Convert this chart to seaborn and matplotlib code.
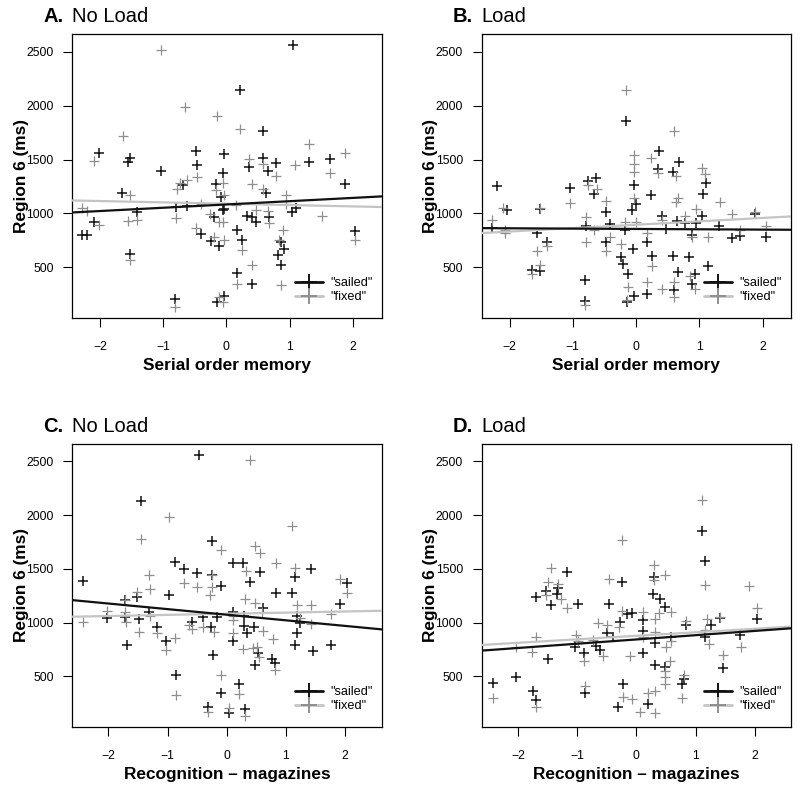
import numpy as np
import matplotlib
matplotlib.use("Agg")
import matplotlib.pyplot as plt
import seaborn as sns
from matplotlib.lines import Line2D

sns.set_style("ticks")
plt.rcParams['font.family'] = ['Liberation Sans', 'DejaVu Sans']
plt.rcParams['axes.unicode_minus'] = True
plt.rcParams['text.color'] = 'black'
plt.rcParams['axes.labelcolor'] = 'black'
plt.rcParams['xtick.color'] = 'black'
plt.rcParams['ytick.color'] = 'black'
plt.rcParams['xtick.labelcolor'] = 'black'
plt.rcParams['ytick.labelcolor'] = 'black'

# ---------------- data ----------------
# Panel A: No Load vs serial order memory
a_sailed_x = [-2.02, -1.52, -1.55, -0.48, -0.03, -0.47, -1.04, -0.05, -0.68, -0.16, -1.65, -0.08, -1.41, -0.79,
              -0.62, -0.03, -0.05, -0.19, -2.09, -0.40, -2.29, -2.20, -0.24, -0.11, -1.52, -0.81, -0.04, -0.15,
              1.05, 0.22, 0.58, 0.36, 0.58, 0.78, 0.66, 1.31, 1.64, 1.88, 0.63, 1.04, 1.11, 0.33, 0.40, 0.47,
              0.67, 0.17, 0.24, 0.87, 0.92, 0.82, 0.87, 2.04, 0.17, 0.40]
a_sailed_y = [1560, 1510, 1473, 1575, 1553, 1445, 1390, 1374, 1260, 1275, 1189, 1148, 1009, 1059,
              1071, 1040, 1028, 963, 917, 808, 802, 802, 740, 694, 626, 208, 230, 178,
              2565, 2141, 1767, 1427, 1513, 1467, 1396, 1473, 1507, 1275, 1189, 1009, 1049, 972, 963, 917,
              966, 843, 756, 731, 669, 617, 521, 839, 447, 348]
a_fixed_x = [-1.04, -0.65, -0.15, -1.64, -2.09, -0.46, -0.62, -0.73, -0.05, -0.78, -0.16, -1.52, -0.03, -2.28,
             -2.21, -0.40, -0.79, -0.26, -1.41, -1.55, -2.02, -0.11, -0.05, -0.48, -0.19, -0.03, -1.52, -0.81,
             -0.12, -0.05,
             0.22, 1.31, 1.88, 0.36, 0.58, 0.78, 1.09, 1.64, 0.41, 0.58, 0.95, 0.16, 0.95, 0.47, 0.66, 0.67,
             1.52, 0.24, 0.89, 0.83, 0.40, 2.04, 0.17, 0.87]
a_fixed_y = [2512, 1983, 1906, 1720, 1482, 1334, 1312, 1281, 1281, 1226, 1220, 1173, 1173, 1049,
             1018, 1090, 957, 994, 941, 926, 895, 917, 917, 864, 780, 756, 570, 131,
             221, 178,
             1782, 1646, 1560, 1507, 1461, 1343, 1445, 1374, 1272, 1226, 1173, 1080, 1090, 1034, 1018, 911,
             978, 657, 849, 756, 524, 756, 348, 338]

# Panel B: Load vs serial order memory
b_sailed_x = [-0.16, -2.20, -1.05, -0.76, -0.63, -0.66, -0.47, -2.04, -1.52, -0.79, -2.28, -0.41, -0.18, -1.56,
              -1.41, -0.48, -0.24, -0.20, -1.65, -1.52, -0.12, -0.80, -0.81, -0.15,
              0.36, 0.68, 0.34, 0.58, 1.11, 1.06, -0.03, 0.23, 0.00, -0.06, 1.05, 1.88, 0.41, 0.64, 0.78,
              0.95, 0.48, 1.31, 2.05, 1.65, 1.52, 0.17, 0.88, -0.05, 0.25, 0.59, 0.83, 1.13, 0.67, 0.93,
              0.88, 0.60, 0.18, -0.04]
b_sailed_y = [1860, 1250, 1232, 1303, 1325, 1182, 1009, 1028, 1040, 886, 864, 904, 849, 818,
              737, 731, 592, 533, 471, 462, 440, 379, 184, 175,
              1578, 1473, 1414, 1387, 1281, 1182, 1266, 1173, 1084, 1034, 978, 994, 972, 932, 911,
              911, 855, 880, 781, 793, 768, 731, 802, 670, 608, 608, 595, 508, 453, 434,
              348, 292, 249, 230]
b_fixed_x = [-0.16, -1.05, -0.76, -0.62, -0.47, -2.10, -1.52, -0.79, -2.28, -2.07, -2.07, -0.18, -0.67, -1.41,
             -1.56, -0.41, -0.48, -0.79, -0.24, -1.52, -1.65, -0.12, -0.81, -0.15,
             0.60, -0.03, 0.23, -0.04, -0.04, 0.35, 0.63, 1.05, 1.09, -0.04, 0.67, 0.63, 1.32, 0.95, 1.52,
             1.88, 0.41, 0.78, 0.00, 2.05, 1.65, 0.17, 0.88, 1.13, 0.25, 0.86, 0.17, 0.60, 0.41, 0.60, 0.93]
b_fixed_y = [2141, 1096, 1263, 1226, 1117, 1049, 1053, 966, 935, 849, 818, 917, 843, 694,
             648, 780, 648, 734, 719, 524, 440, 317, 147, 200,
             1767, 1541, 1516, 1458, 1383, 1374, 1343, 1417, 1365, 1145, 1142, 1102, 1102, 1040, 994,
             1012, 941, 972, 917, 886, 849, 818, 780, 780, 508, 422, 360, 360, 298, 224, 298]

# Panel C: No Load vs recognition - magazines
c_sailed_x = [-0.47, -1.45, -0.25, -0.88, -0.72, -0.51, -0.25, -2.43, -0.10, -1.51, -0.97, -1.72, -2.03, -1.72,
              -1.32, -1.49, -1.18, -0.58, -0.40, -0.17, -0.27, -1.02, -1.69, -0.23, -0.86, -0.09, -0.32, 0.04,
              0.11, 0.28, 0.57, 1.42, 1.16, 0.39, 2.03, 0.83, 1.10, 0.61, 1.91, 0.11, 0.29, 1.19, 1.24, 0.29,
              0.46, 0.34, 1.19, 0.11, 1.16, 1.76, 1.46, 0.53, 0.48, 0.76, 0.81, 0.20, 0.31]
c_sailed_y = [2557, 2133, 1762, 1567, 1502, 1458, 1446, 1387, 1341, 1241, 1254, 1210, 1040, 1050,
              1099, 1031, 957, 1006, 1056, 1050, 957, 833, 796, 697, 517, 344, 220, 164,
              1557, 1551, 1474, 1502, 1421, 1381, 1365, 1272, 1272, 1136, 1173, 1099, 1062, 1062, 1000, 969,
              957, 907, 907, 833, 796, 796, 734, 721, 604, 659, 622, 430, 195]
c_fixed_x = [-0.98, -1.45, -0.09, -0.25, -1.32, -0.72, -0.51, -0.25, -1.29, -0.28, -1.51, -1.72, -2.03, -1.72,
             -1.70, -1.29, -1.49, -2.43, -1.18, -0.64, -0.58, -0.40, -0.22, -1.02, -0.87, -0.09, -0.86, -0.32,
             0.04,
             0.39, 1.11, 0.47, 0.57, 0.33, 0.83, 1.16, 1.91, 2.03, 0.31, 0.47, 1.19, 1.43, 0.11, 0.11, 0.60,
             1.24, 1.76, 0.61, 1.43, 0.11, 0.78, 0.28, 0.45, 0.51, 0.55, 0.81, 0.20, 0.31]
c_fixed_y = [1978, 1777, 1675, 1446, 1440, 1372, 1334, 1328, 1310, 1260, 1285, 1210, 1105, 1099,
             1009, 1062, 913, 1009, 901, 978, 938, 957, 913, 746, 858, 517, 331, 170,
             204,
             2511, 1898, 1715, 1644, 1483, 1551, 1505, 1409, 1272, 1223, 1186, 1167, 1167, 1062, 1025, 1099,
             1043, 1080, 926, 988, 901, 845, 752, 762, 777, 684, 560, 337, 133]

# Panel D: Load vs recognition - magazines
d_sailed_x = [-1.17, -0.25, -1.52, -1.32, -1.34, -1.69, -1.44, -0.98, -0.47, -0.16, -0.27, -0.50, -0.39, -1.03,
              -1.49, -0.68, -0.62, -0.88, -2.03, -2.42, -1.75, -1.70, -0.86, -0.23, -0.31,
              1.11, 1.16, 0.30, 0.28, 0.40, 0.48, -0.07, 0.11, 0.83, 1.26, 1.41, 2.03, 0.11, 0.32, 0.58,
              1.16, 1.75, 0.11, 1.46, 0.32, 0.49, 0.80, 0.77, 0.20]
d_sailed_y = [1467, 1378, 1297, 1319, 1266, 1241, 1167, 1176, 1176, 1077, 1006, 907, 870, 777,
              659, 783, 746, 715, 492, 443, 368, 282, 344, 430, 220,
              1851, 1570, 1421, 1266, 1223, 1142, 1087, 1025, 975, 975, 1043, 1037, 926, 814, 864,
              864, 882, 721, 579, 604, 591, 474, 430, 245]
d_fixed_x = [-0.25, -1.44, -1.49, -0.47, -1.32, -1.52, -1.27, -1.17, -0.25, -0.64, -0.50, -0.29, -1.69, -1.02,
             -2.03, -1.76, -0.73, -0.57, -0.88, -0.98, -2.42, -1.70, -0.86, -0.23,
             1.11, 1.16, 1.90, 0.29, 0.30, 0.48, 0.58, 0.39, 0.11, 0.32, 0.83, 1.20, 1.41, 2.03, 0.31, 0.58,
             0.11, 1.16, 1.23, 1.76, 0.50, -0.10, 1.47, 0.57, 0.49, 0.49, 0.49, 0.80, 0.77, -0.08, 0.20, 0.31,
             0.06, 0.31]
d_fixed_y = [1768, 1508, 1378, 1402, 1359, 1260, 1217, 1136, 1111, 994, 975, 957, 864, 882,
             771, 728, 839, 690, 641, 833, 304, 214, 412, 313,
             2139, 1350, 1341, 1533, 1396, 1446, 1099, 1087, 1099, 1031, 1019, 1037, 1050, 1136, 913, 827,
             864, 932, 802, 771, 777, 690, 703, 641, 548, 499, 430, 511, 297, 294, 350, 368,
             170, 158]

# fitted regression lines (intercept, slope)
fit_a_sailed = [1083, 30.4]
fit_a_fixed = [1090, -12.4]
fit_b_sailed = [856, -3.1]
fit_b_fixed = [895, 31.5]
fit_c_sailed = [1074, -52.0]
fit_c_fixed = [1083, 10.5]
fit_d_sailed = [844, 39.7]
fit_d_fixed = [878, 32.6]

letters = ["A.", "B.", "C.", "D."]
titles = ["No Load", "Load", "No Load", "Load"]
xlabels = ["Serial order memory", "Serial order memory",
           "Recognition \u2013 magazines", "Recognition \u2013 magazines"]
legend_labels = ['"sailed"', '"fixed"']
y_ticks = [500, 1000, 1500, 2000, 2500]
x_ticks = [-2, -1, 0, 1, 2]
ylabel = "Region 6 (ms)"

# ---------------- layout ----------------
W, H = 800, 793
BLACK = "#111111"
GRAY = "#8f8f8f"
LINE_GRAY = "#c4c4c4"

fig = plt.figure(figsize=(W / 100, H / 100), dpi=100)

boxes = [(72.3, 34.3, 381.7, 317.7), (481.7, 34.3, 791.0, 317.7),
         (72.3, 444.0, 381.7, 726.7), (481.7, 444.0, 791.0, 726.7)]
xlims = [(-2.44, 2.46), (-2.44, 2.45), (-2.61, 2.62), (-2.61, 2.61)]
ylim = (33, 2661)

panels = [
    (a_sailed_x, a_sailed_y, a_fixed_x, a_fixed_y, fit_a_sailed, fit_a_fixed),
    (b_sailed_x, b_sailed_y, b_fixed_x, b_fixed_y, fit_b_sailed, fit_b_fixed),
    (c_sailed_x, c_sailed_y, c_fixed_x, c_fixed_y, fit_c_sailed, fit_c_fixed),
    (d_sailed_x, d_sailed_y, d_fixed_x, d_fixed_y, fit_d_sailed, fit_d_fixed),
]

for i, (sx, sy, fx, fy, fs, ff) in enumerate(panels):
    x0, y0, x1, y1 = boxes[i]
    ax = fig.add_axes([x0 / W, 1 - y1 / H, (x1 - x0) / W, (y1 - y0) / H])
    sns.scatterplot(x=sx, y=sy, ax=ax, marker="+", color=BLACK, s=44, linewidth=1.1, zorder=3, legend=False)
    sns.scatterplot(x=fx, y=fy, ax=ax, marker="+", color=GRAY, s=44, linewidth=0.9, zorder=3, legend=False)
    xs = np.array(xlims[i])
    sns.lineplot(x=xs, y=ff[0] + ff[1] * xs, ax=ax, color=LINE_GRAY, lw=1.6, zorder=4)
    sns.lineplot(x=xs, y=fs[0] + fs[1] * xs, ax=ax, color=BLACK, lw=1.6, zorder=5)
    ax.set_xlim(*xlims[i])
    ax.set_ylim(*ylim)
    ax.set_xticks(x_ticks)
    ax.set_yticks(y_ticks)
    ax.set_xticklabels([("\u2212%d" % -t) if t < 0 else str(t) for t in x_ticks])
    for sp in ax.spines.values():
        sp.set_visible(True)
        sp.set_linewidth(0.9)
        sp.set_color("black")
    ax.tick_params(axis="both", direction="out", length=6.5, width=0.8, colors="black",
                   labelcolor="black", labelsize=8.8)
    ax.tick_params(axis="x", pad=10.5)
    ax.tick_params(axis="y", pad=7)
    ax.set_xlabel(xlabels[i], fontsize=12.4, fontweight="bold", color="black")
    ax.xaxis.set_label_coords(0.5, -47.8 / (y1 - y0))
    ax.xaxis.label.set_va("center")
    ax.set_ylabel(ylabel, fontsize=12.4, fontweight="bold", color="black")
    ax.yaxis.set_label_coords(-51.0 / (x1 - x0), 0.5)
    ax.yaxis.label.set_va("center")
    # title
    ax.annotate(titles[i], xy=(0, 1), xycoords="axes fraction", xytext=(0, 9.0),
                textcoords="offset points", ha="left", va="baseline", fontsize=14.5, color="black")
    ax.annotate(letters[i], xy=(0, 1), xycoords="axes fraction", xytext=(-6.5, 9.0),
                textcoords="offset points", ha="right", va="baseline", fontsize=14.5,
                fontweight="bold", color="black")
    handles = [Line2D([], [], color=BLACK, marker="+", ms=12, mew=1.4, lw=2.0),
               Line2D([], [], color=LINE_GRAY, marker="+", ms=12, mew=1.4, lw=2.0,
                      markeredgecolor=GRAY)]
    leg = ax.legend(handles=handles, labels=legend_labels, loc="lower right", frameon=False,
                    fontsize=9.2, handlelength=2.2, handletextpad=0.6, labelspacing=0.15,
                    borderaxespad=0.3, bbox_to_anchor=(1.0, 0.02))
    for t in leg.get_texts():
        t.set_color("black")

fig.savefig("out.png", dpi=100)
